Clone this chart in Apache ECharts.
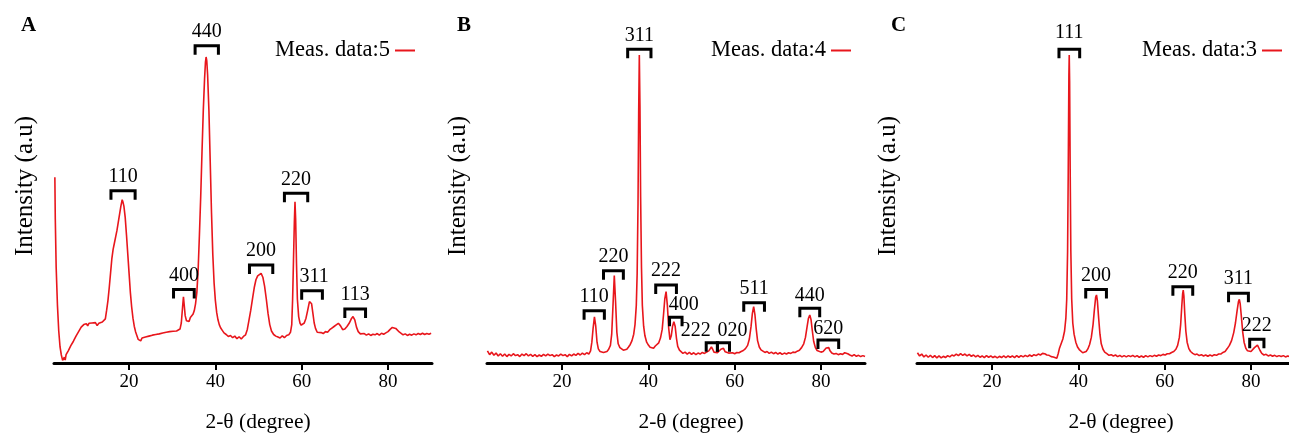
<!DOCTYPE html>
<html>
<head>
<meta charset="utf-8">
<script src="https://cdn.jsdelivr.net/npm/echarts@6/dist/echarts.min.js"></script>
<style>
html,body{margin:0;padding:0;background:#fff;}
#chart{width:1289px;height:435px;}
</style>
</head>
<body>
<div id="chart"></div>
<script>
// ---------- DATA ----------
const panelLetters = ['A', 'B', 'C'];
const seriesNames = ['Meas. data:5', 'Meas. data:4', 'Meas. data:3'];
const xTicks = [20, 40, 60, 80];
const xTitle = '2-θ (degree)';
const yTitle = 'Intensity (a.u)';

// Panel A : [2θ, intensity]
const dataA = [
[2.8,58],[2.9,45],[3.1,30],[3.4,18],[3.7,10],[4.0,5],[4.3,2.5],[4.6,0.8],[4.8,0.3],[5.0,1.8],[5.2,0.9],[5.4,2.6],[5.6,2.0],[5.9,3.8],[6.2,3.2],[6.5,5.4],[6.8,4.9],[7.1,6.8],[7.4,6.5],[7.7,8.4],[8.0,8.0],[8.3,9.8],[8.6,9.6],[8.9,11.2],[9.2,10.7],[9.5,12.0],[9.8,11.4],[10.1,12.3],[10.4,11.6],[10.7,12.4],[11.0,11.8],[11.4,12.5],[11.8,11.9],[12.2,12.6],[12.6,11.7],[13.0,12.4],[13.4,12.0],[13.8,12.8],[14.2,12.3],[14.5,13.8],[14.8,16.5],[15.1,19.5],[15.4,23.5],[15.7,28.0],[16.0,32.5],[16.3,35.5],[16.6,37.5],[16.9,39.5],[17.2,41.5],[17.5,44.0],[17.8,46.5],[18.1,49.0],[18.4,51.0],[18.6,50.2],[18.8,49.0],[19.1,45.5],[19.4,40.0],[19.7,34.0],[20.0,28.0],[20.3,22.0],[20.6,17.5],[20.9,14.0],[21.2,11.5],[21.5,9.8],[21.8,8.6],[22.1,7.4],[22.4,7.9],[22.7,6.9],[23.0,7.8],[23.4,7.2],[23.8,8.1],[24.2,7.5],[24.6,8.4],[25.0,7.9],[25.4,8.7],[25.8,8.1],[26.2,8.9],[26.6,8.3],[27.0,9.1],[27.4,8.5],[27.8,9.4],[28.2,8.8],[28.6,9.6],[29.0,9.0],[29.4,9.8],[29.8,9.2],[30.2,9.9],[30.6,9.4],[31.0,10.0],[31.4,9.7],[31.8,10.6],[32.1,12.5],[32.4,17.5],[32.6,20.7],[32.8,17.8],[33.0,14.8],[33.3,13.2],[33.6,13.8],[33.9,13.0],[34.2,14.2],[34.5,13.9],[34.8,15.2],[35.1,16.3],[35.4,18.5],[35.7,22.0],[36.0,29.0],[36.3,40.0],[36.6,52.0],[36.9,66.0],[37.2,79.0],[37.5,89.0],[37.7,94.0],[37.85,95.6],[38.0,94.5],[38.2,90.0],[38.5,79.0],[38.8,63.0],[39.1,47.0],[39.4,34.0],[39.7,25.0],[40.0,19.5],[40.3,15.8],[40.6,13.5],[40.9,12.0],[41.2,11.0],[41.6,10.2],[42.0,9.4],[42.5,8.9],[43.0,8.3],[43.5,8.6],[44.0,7.9],[44.5,8.4],[45.0,7.6],[45.5,8.2],[46.0,7.5],[46.5,8.3],[47.0,8.8],[47.4,10.5],[47.8,13.5],[48.2,16.5],[48.6,20.0],[49.0,23.5],[49.4,26.0],[49.8,27.2],[50.2,27.8],[50.6,28.0],[51.0,26.8],[51.4,24.0],[51.8,20.0],[52.2,15.5],[52.6,12.0],[53.0,10.0],[53.5,8.9],[54.0,8.4],[54.5,8.1],[55.0,7.8],[55.5,8.5],[56.0,7.9],[56.5,8.6],[57.0,8.8],[57.4,9.6],[57.7,12.0],[57.9,20.0],[58.1,32.0],[58.3,44.0],[58.45,50.4],[58.6,45.0],[58.8,31.0],[59.0,20.0],[59.3,14.5],[59.6,12.5],[59.9,11.8],[60.2,12.1],[60.6,12.5],[61.0,14.0],[61.4,16.5],[61.8,19.2],[62.0,19.7],[62.3,18.5],[62.6,15.5],[62.9,12.5],[63.2,10.8],[63.6,9.6],[64.0,9.1],[64.5,9.5],[65.0,9.2],[65.5,9.8],[66.0,9.6],[66.5,10.4],[67.0,10.9],[67.5,11.4],[68.0,11.9],[68.5,12.4],[69.0,11.6],[69.5,10.4],[70.0,10.6],[70.5,11.4],[71.0,12.4],[71.5,13.8],[71.9,14.5],[72.3,13.5],[72.7,11.2],[73.1,9.8],[73.6,9.1],[74.0,8.8],[74.5,9.2],[75.0,8.7],[75.5,9.1],[76.0,8.6],[76.5,9.0],[77.0,8.8],[77.5,9.2],[78.0,8.7],[78.5,9.3],[79.0,9.0],[79.5,9.4],[80.0,9.8],[80.5,10.5],[81.0,11.1],[81.4,11.2],[81.8,10.8],[82.2,10.2],[82.6,9.7],[83.0,9.2],[83.5,8.8],[84.0,9.1],[84.5,8.6],[85.0,9.0],[85.5,8.7],[86.0,9.1],[86.5,8.8],[87.0,9.2],[87.5,8.9],[88.0,9.3],[88.5,8.9],[89.0,9.2],[89.5,9.0],[90.0,9.3]
];

// Panel B
const dataB = [
[2.7,3.8],[3.2,2.6],[3.7,3.4],[4.2,2.4],[4.7,3.1],[5.2,2.2],[5.7,2.9],[6.2,2.1],[6.7,2.8],[7.2,2.0],[7.7,2.7],[8.2,2.2],[8.7,2.9],[9.2,2.3],[9.7,2.6],[10.2,2.0],[10.7,2.8],[11.2,2.3],[11.7,2.9],[12.2,2.2],[12.7,2.7],[13.2,2.1],[13.7,2.6],[14.2,2.0],[14.7,2.5],[15.2,2.1],[15.7,2.7],[16.2,2.2],[16.7,2.8],[17.2,2.3],[17.7,2.6],[18.2,2.0],[18.7,2.5],[19.2,2.2],[19.7,2.8],[20.2,2.3],[20.7,2.6],[21.2,2.0],[21.7,2.7],[22.2,2.2],[22.7,2.8],[23.2,2.4],[23.7,3.0],[24.2,2.5],[24.7,3.1],[25.2,2.6],[25.7,3.2],[26.2,2.8],[26.6,3.8],[26.9,6.5],[27.2,11.0],[27.5,14.4],[27.8,11.5],[28.1,6.5],[28.4,4.4],[28.8,3.6],[29.2,3.9],[29.6,3.3],[30.0,3.9],[30.4,3.6],[30.8,4.3],[31.2,5.5],[31.5,9.0],[31.8,18.0],[32.1,27.3],[32.4,19.0],[32.7,9.5],[33.0,6.0],[33.4,4.8],[33.8,4.4],[34.2,4.0],[34.6,4.5],[35.0,4.3],[35.4,5.0],[35.8,5.8],[36.2,7.0],[36.6,9.0],[36.9,12.0],[37.2,18.0],[37.4,28.0],[37.6,50.0],[37.75,78.0],[37.9,96.2],[38.05,80.0],[38.2,52.0],[38.4,30.0],[38.6,18.0],[38.9,11.5],[39.2,8.5],[39.6,6.5],[40.0,5.6],[40.4,4.9],[40.8,5.2],[41.2,4.6],[41.6,5.3],[42.0,5.6],[42.4,6.3],[42.8,7.8],[43.2,10.5],[43.5,15.0],[43.8,20.0],[44.1,22.3],[44.4,18.0],[44.7,11.0],[45.0,7.3],[45.3,8.5],[45.6,11.5],[45.9,12.9],[46.2,11.5],[46.5,7.8],[46.8,5.2],[47.2,4.0],[47.6,3.4],[48.0,3.0],[48.5,3.4],[49.0,2.8],[49.5,3.3],[50.0,2.7],[50.5,3.2],[51.0,2.6],[51.5,3.1],[52.0,2.8],[52.5,3.3],[53.0,3.0],[53.5,3.4],[54.0,3.8],[54.3,4.4],[54.6,5.0],[54.9,4.3],[55.2,3.4],[55.6,3.0],[56.0,3.2],[56.4,3.6],[56.8,4.3],[57.1,4.8],[57.4,4.6],[57.8,3.5],[58.2,2.9],[58.6,3.1],[59.0,2.8],[59.5,3.2],[60.0,2.9],[60.5,3.3],[61.0,3.2],[61.5,3.6],[62.0,3.9],[62.5,4.5],[63.0,5.5],[63.4,7.5],[63.8,11.5],[64.1,15.5],[64.4,17.6],[64.7,15.0],[65.0,10.5],[65.3,7.0],[65.7,5.0],[66.1,4.1],[66.5,3.6],[67.0,3.3],[67.5,3.6],[68.0,3.0],[68.5,3.4],[69.0,2.9],[69.5,3.3],[70.0,2.8],[70.5,3.2],[71.0,2.7],[71.5,3.1],[72.0,2.8],[72.5,3.2],[73.0,3.0],[73.5,3.4],[74.0,3.3],[74.5,3.7],[75.0,4.0],[75.5,4.8],[76.0,6.0],[76.4,8.0],[76.8,11.5],[77.1,14.0],[77.4,15.0],[77.7,13.5],[78.0,10.0],[78.3,6.8],[78.7,4.8],[79.1,3.9],[79.5,3.5],[80.0,3.4],[80.5,3.6],[80.9,4.0],[81.2,4.7],[81.5,5.1],[81.8,4.8],[82.1,3.8],[82.5,3.1],[83.0,2.8],[83.5,3.0],[84.0,2.6],[84.5,2.9],[85.0,2.7],[85.5,3.2],[85.8,3.4],[86.2,2.9],[86.7,2.5],[87.2,2.2],[87.7,2.6],[88.2,2.1],[88.7,2.4],[89.2,2.0],[89.7,2.3],[90.2,2.0]
];

// Panel C
const dataC = [
[2.7,3.2],[3.2,2.2],[3.7,2.8],[4.2,1.9],[4.7,2.5],[5.2,1.8],[5.7,2.4],[6.2,1.7],[6.7,2.3],[7.2,1.6],[7.7,2.2],[8.2,1.6],[8.7,2.1],[9.2,1.7],[9.7,2.3],[10.2,1.9],[10.7,2.5],[11.2,2.2],[11.7,2.8],[12.2,2.3],[12.7,2.9],[13.2,2.4],[13.7,2.8],[14.2,2.2],[14.7,2.7],[15.2,2.1],[15.7,2.5],[16.2,1.9],[16.7,2.4],[17.2,1.8],[17.7,2.2],[18.2,1.7],[18.7,2.3],[19.2,1.8],[19.7,2.2],[20.2,1.7],[20.7,2.1],[21.2,1.6],[21.7,2.1],[22.2,1.7],[22.7,2.2],[23.2,1.7],[23.7,2.2],[24.2,1.8],[24.7,2.2],[25.2,1.7],[25.7,2.3],[26.2,1.8],[26.7,2.3],[27.2,1.9],[27.7,2.4],[28.2,2.0],[28.7,2.5],[29.2,2.1],[29.7,2.6],[30.2,2.3],[30.7,2.8],[31.2,2.5],[31.7,3.0],[32.2,2.9],[32.7,2.5],[33.2,2.4],[33.7,2.0],[34.2,1.9],[34.6,1.4],[35.0,1.5],[35.3,2.8],[35.6,4.5],[36.0,6.0],[36.4,7.5],[36.8,10.0],[37.1,14.0],[37.3,20.0],[37.5,35.0],[37.65,60.0],[37.8,90.0],[37.88,96.2],[37.97,88.0],[38.1,60.0],[38.25,35.0],[38.45,20.0],[38.7,12.5],[39.0,9.0],[39.4,6.5],[39.8,5.0],[40.2,4.2],[40.6,3.6],[41.0,3.2],[41.4,3.3],[41.8,3.6],[42.2,4.4],[42.6,5.8],[43.0,8.0],[43.4,12.0],[43.7,16.5],[44.0,20.5],[44.2,21.25],[44.4,19.5],[44.7,14.0],[45.0,9.0],[45.3,6.0],[45.7,4.3],[46.1,3.4],[46.6,2.9],[47.1,2.4],[47.6,2.6],[48.1,2.2],[48.6,2.5],[49.1,2.0],[49.6,2.4],[50.1,1.9],[50.6,2.3],[51.1,1.9],[51.6,2.3],[52.1,2.0],[52.6,2.4],[53.1,1.9],[53.6,2.3],[54.1,1.8],[54.6,2.2],[55.1,1.8],[55.6,2.3],[56.1,1.9],[56.6,2.3],[57.1,2.0],[57.6,2.4],[58.1,2.1],[58.6,2.5],[59.1,2.3],[59.6,2.7],[60.1,2.5],[60.6,2.9],[61.1,2.9],[61.6,3.3],[62.1,3.6],[62.6,4.3],[63.0,5.5],[63.4,8.0],[63.7,12.0],[63.95,17.5],[64.15,21.5],[64.3,22.8],[64.45,21.0],[64.65,15.5],[64.9,10.0],[65.2,6.5],[65.6,4.5],[66.0,3.6],[66.5,3.0],[67.0,2.6],[67.5,2.8],[68.0,2.3],[68.5,2.6],[69.0,2.2],[69.5,2.5],[70.0,2.1],[70.5,2.5],[71.0,2.2],[71.5,2.6],[72.0,2.4],[72.5,2.8],[73.0,2.8],[73.5,3.3],[74.0,3.6],[74.5,4.5],[75.0,5.5],[75.5,7.0],[76.0,9.5],[76.4,12.5],[76.8,16.5],[77.1,19.2],[77.3,19.9],[77.5,18.5],[77.8,14.0],[78.1,9.5],[78.4,6.5],[78.8,4.6],[79.2,3.8],[79.6,3.5],[80.0,3.6],[80.4,4.0],[80.8,4.8],[81.2,5.4],[81.5,5.6],[81.8,5.0],[82.1,3.9],[82.5,3.0],[83.0,2.5],[83.5,2.7],[84.0,2.2],[84.5,2.5],[85.0,2.1],[85.5,2.4],[86.0,2.0],[86.5,2.3],[87.0,2.0],[87.5,2.3],[88.0,1.9],[88.5,2.2],[89.0,2.0],[89.5,2.2],[90.0,2.0]
];

// Peak brackets: [from 2θ, to 2θ, bracket height, label]
const peaksA = [
[15.8,21.4,53.8,'110'],[30.3,35.1,23.0,'400'],[35.3,40.7,99.1,'440'],[47.9,53.3,30.6,'200'],
[56.0,61.4,53.0,'220'],[60.0,64.8,22.6,'311'],[70.0,74.8,16.9,'113']
];
const peaksB = [
[25.1,29.8,16.3,'110'],[29.6,34.2,28.8,'220'],[35.2,40.6,98.0,'311'],[41.7,46.5,24.4,'222'],
[44.9,47.8,14.3,'400'],[53.4,56.0,6.3,'222'],[56.0,58.8,6.3,'020'],[62.1,66.9,18.8,'511'],
[75.1,79.7,17.1,'440'],[79.3,84.1,7.2,'620']
];
const peaksC = [
[35.5,40.3,98.0,'111'],[41.7,46.5,23.0,'200'],[61.9,66.5,23.8,'220'],[74.8,79.4,21.8,'311'],[79.7,83.0,7.4,'222']
];

// ---------- LAYOUT / STYLE ----------
const labelNudge = { // per-panel pixel nudges of some bracket labels [dx, dy]
  B: {4: [8, 2], 5: [-16, 2], 6: [9, 2], 8: [0, 1], 9: [0, 3]},
  A: {5: [2, 0]}, C: {0: [0, -3]}
};
const SERIF = '"Liberation Serif","Times New Roman",serif';
const RED = '#e8161c';
const gridLefts = [54, 487, 917];
const legendRights = [874, 438, 7];
const letterLefts = [21, 457, 891];
const datasets = [dataA, dataB, dataC];
const peaks = [peaksA, peaksB, peaksC];

const chart = echarts.init(document.getElementById('chart'), null, {renderer: 'canvas'});

const option = {
  animation: false,
  backgroundColor: '#fff',
  title: panelLetters.map((L, i) => ({
    text: L, left: letterLefts[i], top: 15, padding: 0,
    textStyle: {fontFamily: SERIF, fontWeight: 'bold', fontSize: 21, color: '#000'}
  })),
  legend: seriesNames.map((n, i) => ({
    data: [n], right: legendRights[i], top: 39, align: 'right', padding: 0,
    icon: 'rect', itemWidth: 20, itemHeight: 2, selectedMode: false,
    textStyle: {fontFamily: SERIF, fontSize: 22.5, color: '#000'}
  })),
  grid: gridLefts.map(l => ({left: l, width: 378, top: 9, bottom: 72, containLabel: false, outerBoundsMode: 'none'})),
  xAxis: gridLefts.map((l, i) => ({
    type: 'value', gridIndex: i, min: 2.6, max: 90.2,
    name: xTitle, nameLocation: 'middle', nameGap: 48,
    nameTextStyle: {fontFamily: SERIF, fontSize: 21.5, color: '#000', padding: [0, 0, 0, 30]},
    axisLine: {show: true, onZero: false, lineStyle: {color: '#000', width: 3}},
    axisTick: {show: true, customValues: xTicks, length: 7, lineStyle: {color: '#000', width: 2}},
    axisLabel: {show: true, customValues: xTicks, margin: 10, fontFamily: SERIF, fontSize: 19, color: '#000'},
    splitLine: {show: false}
  })),
  yAxis: gridLefts.map((l, i) => ({
    type: 'value', gridIndex: i, min: 0, max: 110.6,
    name: yTitle, nameLocation: 'middle', nameGap: 16,
    nameTextStyle: {fontFamily: SERIF, fontSize: 25, color: '#000'},
    axisLine: {show: false}, axisTick: {show: false}, axisLabel: {show: false}, splitLine: {show: false}
  })),
  series: []
};

datasets.forEach((d, i) => {
  option.series.push({
    name: seriesNames[i], type: 'line', xAxisIndex: i, yAxisIndex: i,
    data: d, showSymbol: false, symbol: 'none', smooth: false,
    lineStyle: {color: RED, width: 1.6}, itemStyle: {color: RED}, clip: false, z: 2
  });
  const key = panelLetters[i];
  option.series.push({
    type: 'custom', xAxisIndex: i, yAxisIndex: i, z: 3, clip: false,
    data: peaks[i].map((p, j) => [p[0], p[1], p[2], p[3], j]),
    encode: {x: [0, 1], y: 2},
    renderItem: function (params, api) {
      const p1 = api.coord([api.value(0), api.value(2)]);
      const p2 = api.coord([api.value(1), api.value(2)]);
      const idx = api.value(4);
      const nud = (labelNudge[key] && labelNudge[key][idx]) || [0, 0];
      const leg = 9;
      return {
        type: 'group',
        children: [
          {type: 'polyline', shape: {points: [[p1[0], p1[1] + leg], [p1[0], p1[1]], [p2[0], p2[1]], [p2[0], p2[1] + leg]]},
           style: {stroke: '#000', lineWidth: 3, fill: null, lineJoin: 'miter'}},
          {type: 'text', x: (p1[0] + p2[0]) / 2 + nud[0], y: p1[1] - 14 + nud[1],
           style: {text: peaks[i][idx][3], font: '20px ' + SERIF, fill: '#000', align: 'center', verticalAlign: 'middle'}}
        ]
      };
    }
  });
});

chart.setOption(option);
</script>
</body>
</html>
